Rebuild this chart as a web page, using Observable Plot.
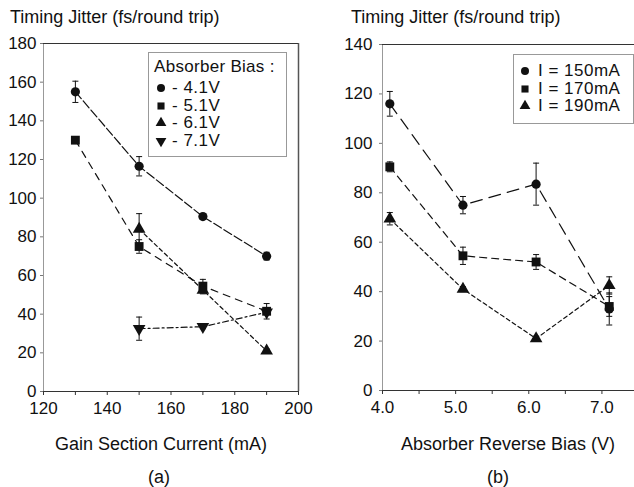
<!DOCTYPE html>
<html>
<head>
<meta charset="utf-8">
<script src="https://cdn.jsdelivr.net/npm/d3@7"></script>
<script src="https://cdn.jsdelivr.net/npm/@observablehq/plot@0.6"></script>
<style>
  html, body { margin: 0; padding: 0; background: #fff; overflow: hidden; }
  #wrap { position: relative; width: 634px; height: 487px; overflow: hidden; font-family: "Liberation Sans", Arial, sans-serif; color: #111; }
  .abs { position: absolute; white-space: nowrap; }
  .title { font-size: 18px; line-height: 20px; }
  .legend { position: absolute; border: 1px solid #999; background: #fff; box-sizing: border-box; }
  .legend .row { position: absolute; font-size: 17px; line-height: 16px; letter-spacing: 0.5px; white-space: nowrap; }
  .legend svg { position: absolute; overflow: visible; }
</style>
</head>
<body>
<div id="wrap"></div>
<script>
// ---------- Data (a): jitter vs gain section current ----------
const gainCurrentA = [130, 150, 170, 190];
const gainCurrentB = [150, 170, 190];
const jitter41 = [155, 116.5, 90.5, 70];
const err41    = [5.5, 5, 1.5, 2];
const jitter51 = [130, 75, 54.5, 41.5];
const err51    = [1.5, 3.5, 3.5, 4];
const jitter61 = [84, 52.5, 21];
const err61    = [8, 2, 1];
const jitter71 = [32.5, 33.5, 41];
const err71    = [6, 1, 1];
const biasLabels = ["- 4.1V", "- 5.1V", "- 6.1V", "- 7.1V"];

// ---------- Data (b): jitter vs absorber reverse bias ----------
const reverseBias = [4.1, 5.1, 6.1, 7.1];
const jitter150 = [116, 75, 83.5, 33];
const err150    = [5, 3.5, 8.5, 6.5];
const jitter170 = [90.5, 54.5, 52, 34];
const err170    = [2, 3.5, 3, 4];
const jitter190 = [69.5, 41, 21, 42.5];
const err190    = [2.5, 1, 1, 3.5];
const currentLabels = ["I = 150mA", "I = 170mA", "I = 190mA"];

const ticksA = [0, 20, 40, 60, 80, 100, 120, 140, 160, 180];
const ticksAx = [120, 130, 140, 150, 160, 170, 180, 190, 200];
const ticksB = [0, 20, 40, 60, 80, 100, 120, 140];
const ticksBx = [4.0, 4.5, 5.0, 5.5, 6.0, 6.5, 7.0, 7.5];

// ---------- helpers ----------
const ink = "#111";
const rows = (xs, ys, es) => xs.map((x, i) => ({x, y: ys[i], e: es[i]}));
const cap = {draw(ctx) { ctx.moveTo(-3, 0); ctx.lineTo(3, 0); }};
const triDown = {draw(ctx, size) {
  const y = -Math.sqrt(size / (Math.sqrt(3) * 3));
  ctx.moveTo(0, -y * 2);
  ctx.lineTo(-Math.sqrt(3) * y, y);
  ctx.lineTo(Math.sqrt(3) * y, y);
  ctx.closePath();
}};
const symSize = {circle: 4.6, square: 5.0, triangle: 4.7, down: 4.7};
const symObj = s => s === "down" ? triDown : s;

function seriesMarks(data, symbol, dash) {
  return [
    Plot.line(data, {x: "x", y: "y", stroke: ink, strokeWidth: 1.2, strokeDasharray: dash}),
    Plot.ruleX(data, {x: "x", y1: d => d.y - d.e, y2: d => d.y + d.e, stroke: ink, strokeWidth: 1}),
    Plot.dot(data, {x: "x", y: d => d.y + d.e, symbol: cap, r: 3, stroke: ink, fill: "none", strokeWidth: 1}),
    Plot.dot(data, {x: "x", y: d => d.y - d.e, symbol: cap, r: 3, stroke: ink, fill: "none", strokeWidth: 1}),
    Plot.dot(data, {x: "x", y: "y", symbol: symObj(symbol), r: symSize[symbol], fill: ink, stroke: "none"})
  ];
}

const style = {fontFamily: "Liberation Sans, Arial, sans-serif", fontSize: "17px", color: ink, background: "transparent", overflow: "visible"};

// ---------- Panel (a) ----------
const plotA = Plot.plot({
  width: 317, height: 487,
  marginLeft: 43, marginRight: 19, marginTop: 43, marginBottom: 96,
  style,
  x: {domain: [120, 200]},
  y: {domain: [0, 180]},
  marks: [
    Plot.ruleX([120], {stroke: "#999", strokeWidth: 1}),
    Plot.ruleX([200], {stroke: "#555", strokeWidth: 1.5}),
    Plot.ruleY([180], {stroke: "#333", strokeWidth: 1.2}),
    Plot.ruleY([0], {stroke: "#333", strokeWidth: 1.2}),
    Plot.axisY({ticks: ticksA, tickSize: 3, tickPadding: 4, label: null, stroke: "#777"}),
    Plot.axisX({ticks: ticksAx, tickFormat: d => d % 20 === 0 ? String(d) : "", tickSize: 4, tickPadding: 6, label: null, stroke: "#333"}),
    ...seriesMarks(rows(gainCurrentA, jitter41, err41), "circle", "9,3"),
    ...seriesMarks(rows(gainCurrentA, jitter51, err51), "square", "7,6"),
    ...seriesMarks(rows(gainCurrentB, jitter61, err61), "triangle", "4,3"),
    ...seriesMarks(rows(gainCurrentB, jitter71, err71), "down", "6,3,2,3")
  ]
});

// ---------- Panel (b) ----------
const plotB = Plot.plot({
  width: 330, height: 487,
  marginLeft: 65, marginRight: 9, marginTop: 44, marginBottom: 97,
  style,
  x: {domain: [4.0, 7.5]},
  y: {domain: [0, 140]},
  marks: [
    Plot.ruleX([4.0], {stroke: "#999", strokeWidth: 1}),
    Plot.ruleY([140], {stroke: "#333", strokeWidth: 1.2}),
    Plot.ruleY([0], {stroke: "#333", strokeWidth: 1.2}),
    Plot.axisY({ticks: ticksB, tickSize: 3, tickPadding: 7, label: null, stroke: "#777"}),
    Plot.axisX({ticks: ticksBx, tickFormat: d => Number.isInteger(d) ? d.toFixed(1) : "", tickSize: 4, tickPadding: 6, label: null, stroke: "#333"}),
    ...seriesMarks(rows(reverseBias, jitter150, err150), "circle", "12,7"),
    ...seriesMarks(rows(reverseBias, jitter170, err170), "square", "7,5"),
    ...seriesMarks(rows(reverseBias, jitter190, err190), "triangle", "4,3")
  ]
});

const wrap = document.getElementById("wrap");
plotA.style.position = "absolute"; plotA.style.left = "0px"; plotA.style.top = "0px";
plotB.style.position = "absolute"; plotB.style.left = "317px"; plotB.style.top = "0px";
wrap.appendChild(plotA);
wrap.appendChild(plotB);

function addText(text, left, top, cls, center) {
  const d = document.createElement("div");
  d.className = "abs " + cls;
  d.textContent = text;
  d.style.left = left + "px";
  d.style.top = top + "px";
  if (center) d.style.transform = "translateX(-50%)";
  wrap.appendChild(d);
  return d;
}
addText("Timing Jitter (fs/round trip)", 10, 7, "title");
addText("Timing Jitter (fs/round trip)", 351, 7, "title");
addText("Gain Section Current (mA)", 161, 434, "title", true);
addText("Absorber Reverse Bias (V)", 508, 434, "title", true);
addText("(a)", 159, 467, "title", true);
addText("(b)", 498, 467, "title", true);

// ---------- legends ----------
function symPath(s, r) {
  const size = Math.PI * r * r;
  const type = s === "circle" ? d3.symbolCircle : s === "square" ? d3.symbolSquare : s === "triangle" ? d3.symbolTriangle : triDown;
  return d3.symbol(type, size)();
}
function legend(left, top, w, h, header, labels, symbols, symX, textX, y0, dy, r) {
  const box = document.createElement("div");
  box.className = "legend";
  Object.assign(box.style, {left: left + "px", top: top + "px", width: w + "px", height: h + "px"});
  if (header) {
    const hd = document.createElement("div");
    hd.className = "row";
    hd.textContent = header;
    Object.assign(hd.style, {left: "5px", top: "6px", letterSpacing: "0.3px"});
    box.appendChild(hd);
  }
  labels.forEach((lab, i) => {
    const cy = y0 + i * dy;
    const svg = d3.create("svg").attr("width", 12).attr("height", 12)
      .style("left", (symX - 6) + "px").style("top", (cy - 6) + "px");
    svg.append("path").attr("transform", "translate(6,6)").attr("d", symPath(symbols[i], r)).attr("fill", ink);
    box.appendChild(svg.node());
    const t = document.createElement("div");
    t.className = "row";
    t.textContent = lab;
    Object.assign(t.style, {left: textX + "px", top: (cy - 8) + "px"});
    box.appendChild(t);
  });
  wrap.appendChild(box);
}
legend(148, 52, 139, 105, "Absorber Bias :", biasLabels, ["circle", "square", "triangle", "down"], 12, 23, 35, 17.5, 4);
legend(513, 54, 121, 70, null, currentLabels, ["circle", "square", "triangle"], 11, 24, 16, 17.5, 4);
</script>
</body>
</html>
